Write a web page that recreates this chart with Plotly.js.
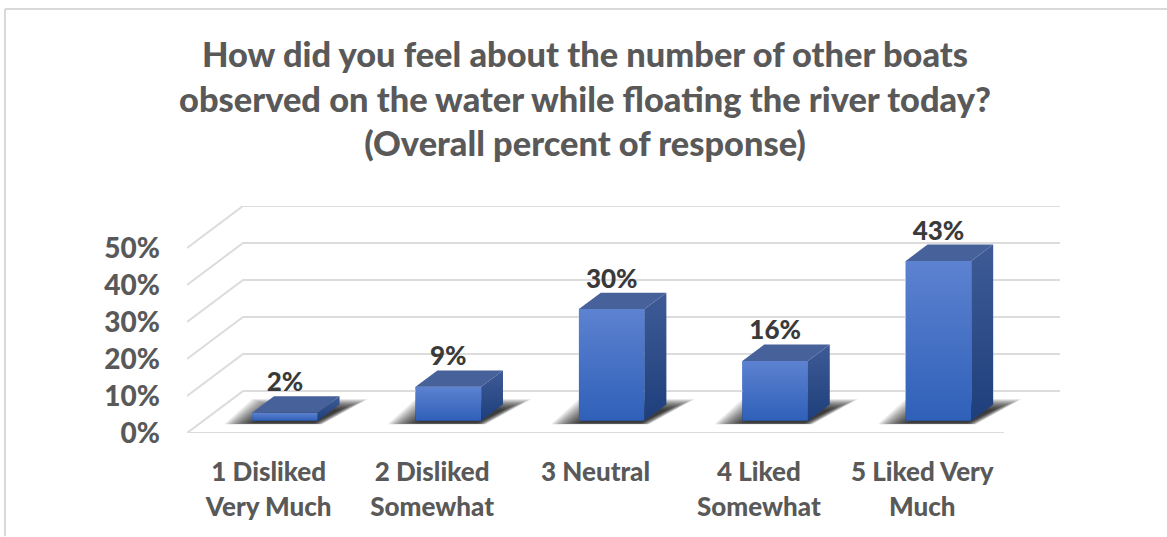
<!DOCTYPE html>
<html><head><meta charset="utf-8">
<script src="https://cdn.plot.ly/plotly-3.0.1.min.js"></script>
<style>html,body{margin:0;padding:0;background:#fff}#c{width:1167px;height:537px}</style>
</head><body><div id="c"></div>
<script>
const categories = ["1 Disliked<br>Very Much","2 Disliked<br>Somewhat","3 Neutral<br> ","4 Liked<br>Somewhat","5 Liked Very<br>Much"];
const values = [2.2, 9.2, 30.2, 16.2, 43.2];
const yTicks = [0,10,20,30,40,50];
const yTickLabels = ["0%","10%","20%","30%","40%","50%"];
const titleLines = ["How did you feel about the number of other boats","observed on the water while floating the river today?","(Overall percent of response)"];

const W=1167,H=537;
const L=187,R=1060,T=205.7,B=433.5;
const catPx=163.4, valPx=3.71;           // px per category, px per percent
const wallDX=56, wallDY=42;              // oblique offset of the back wall (px)
const px=v=>v/catPx, py=v=>v/valPx;
// project (category pos, value, depth 0..1) into axis data coords
const X=(u,d)=>u+px(wallDX)*d;
const Y=(v,d)=>v+py(wallDY)*d;
const dFront=0.29, dBack=0.68, barW=65.6/catPx;

const xPos=categories.map((_,i)=>i+1);
const xMin=0.5,xMax=5.5+px(wallDX),yMax=Y(50,1)+0;

const traces=[];
const grid={color:'#dcdcdc',width:2};
const gridLine=(xs,ys)=>({type:'scatter',x:xs,y:ys,mode:'lines',line:grid,hoverinfo:'skip',showlegend:false,cliponaxis:false});

// bars themselves
traces.push({type:'bar',x:xPos.map(u=>X(u,dFront)),y:values,base:values.map(()=>Y(0,dFront)),width:barW,
  marker:{color:'#3c6bc4',line:{width:0}},hoverinfo:'skip',showlegend:false});

// walls
traces.push(gridLine([X(xMin,0),X(xMax-px(wallDX),0)],[0,0]));
yTicks.forEach(v=>{
  traces.push(gridLine([X(xMin,0),X(xMin,1),X(xMax-px(wallDX),1)],[Y(v,0),Y(v,1),Y(v,1)]));
});

// soft shadows: stacked translucent floor polygons
values.forEach((v,i)=>{
  const x0=X(xPos[i],dFront)-barW/2, y0=Y(0,dFront);
  for(let k=0;k<20;k++){
    const a=k*1.5,b=k*0.58;
    const sx=[-28+a,70-a*0.3,116-a,0+a].map(p=>x0+px(p));
    const sy=[-3.5+0.1*b,-3.5+0.1*b,22-b,22-b].map(p=>y0+py(p));
    traces.push({type:'scatter',x:sx,y:sy,mode:'none',fill:'toself',fillcolor:'rgba(0,0,0,0.065)',hoverinfo:'skip',showlegend:false});
  }
});

const poly=(xs,ys,top,bottom)=>({type:'scatter',x:xs,y:ys,mode:'none',fill:'toself',hoverinfo:'skip',showlegend:false,
  fillgradient:{type:'vertical',colorscale:[[0,bottom],[1,top]]}});
values.forEach((v,i)=>{
  const c=xPos[i], xl=X(c,dFront)-barW/2, xr=xl+barW;
  const sh=X(c,dBack)-X(c,dFront);
  const y0=Y(0,dFront), y1=Y(v,dFront), y2=Y(v,dBack), y3=Y(0,dBack);
  traces.push(poly([xl,xr,xr,xl,xl],[y0,y0,y1,y1,y0],'#5d82d1','#2f60b8'));
  traces.push(poly([xr,xr+sh,xr+sh,xr,xr],[y0,y3,y2,y1,y0],'#3e5b96','#1e3f7c'));
  traces.push({type:'scatter',x:[xl,xr,xr+sh,xl+sh,xl],y:[y1,y1,y2,y2,y1],mode:'none',fill:'toself',fillcolor:'#47619a',hoverinfo:'skip',showlegend:false});
});

// data labels
traces.push({type:'scatter',mode:'text',x:xPos.map(u=>X(u,dFront)),y:values.map(v=>Y(v,dBack)+py(11.6)),
  text:values.map(v=>Math.round(v)+'%'),textposition:'middle center',
  textfont:{family:'Lato, sans-serif',size:26,color:'#3a3a3a',weight:900},hoverinfo:'skip',showlegend:false,cliponaxis:false});

const sp=(t,s)=>`<span style="font-size:${s}px">${t}</span>`;
const layout={
  width:W,height:H,autosize:false,showlegend:false,paper_bgcolor:'#fff',plot_bgcolor:'rgba(0,0,0,0)',
  margin:{l:L,r:W-R,t:T,b:H-B,pad:0},
  font:{family:'Lato, sans-serif',color:'#595959'},
  title:{text:titleLines.map(t=>sp(t,34.4)).join('<br>'),x:585/W,xref:'container',xanchor:'center',y:1-67/H,yref:'container',yanchor:'top',
    font:{family:'Lato, sans-serif',size:34.3,color:'#595959',weight:900}},
  xaxis:{range:[xMin,xMax],tickmode:'array',tickvals:xPos,ticktext:categories.map(c=>c.split('<br>').map(t=>sp(t,26)).join('<br>')),
    ticks:'',showgrid:false,zeroline:false,showline:false,ticklabelstandoff:20,
    tickfont:{family:'Lato, sans-serif',size:27,color:'#595959',weight:900},fixedrange:true},
  yaxis:{range:[0,yMax],tickmode:'array',tickvals:yTicks,ticktext:yTickLabels,ticks:'',showgrid:false,zeroline:false,showline:false,
    ticklabelstandoff:26,tickfont:{family:'Lato, sans-serif',size:28,color:'#595959',weight:900},fixedrange:true},
  shapes:[
    {type:'line',xref:'paper',yref:'paper',x0:(5-L)/(R-L),x1:(5-L)/(R-L),y0:(B-8)/(B-T),y1:(B-537)/(B-T),line:{color:'#d9d9d9',width:2}},
    {type:'line',xref:'paper',yref:'paper',x0:(5-L)/(R-L),x1:(1167-L)/(R-L),y0:(B-8)/(B-T),y1:(B-8)/(B-T),line:{color:'#d9d9d9',width:2}}
  ]
};
Plotly.newPlot('c',traces,layout,{displayModeBar:false,staticPlot:true});
</script></body></html>
